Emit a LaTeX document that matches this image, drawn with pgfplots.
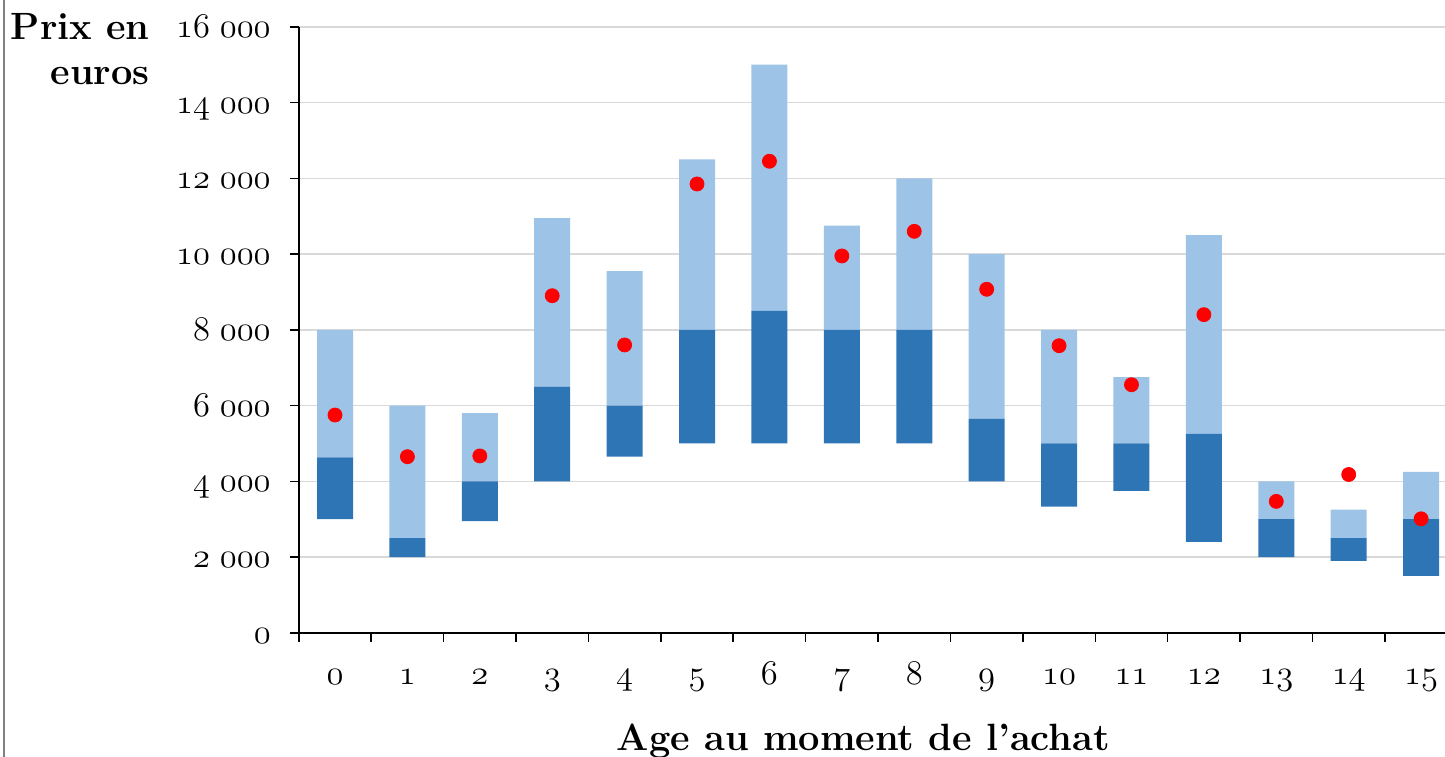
\documentclass[border=0pt]{standalone}
\usepackage{pgfplots}
\usepackage{pgfplotstable}
\pgfplotsset{compat=1.18}
\definecolor{darkb}{HTML}{2E75B6}
\definecolor{lightb}{HTML}{9DC3E6}
\definecolor{gridc}{HTML}{D9D9D9}
\newcommand\osn[1]{{\usefont{OML}{cmm}{m}{it}#1}}
\newcommand\yl[1]{\osn{#1}\hspace{0.3em}\osn{000}}
\pgfplotstableread{
age q1 med q3 mean
0 3000 4630 8000 5750
1 2000 2500 6000 4650
2 2950 4000 5800 4670
3 4000 6500 10950 8900
4 4650 6000 9550 7600
5 5000 8000 12500 11850
6 5000 8500 15000 12450
7 5000 8000 10750 9950
8 5000 8000 12000 10600
9 4000 5650 10000 9070
10 3330 5000 8000 7580
11 3750 5000 6750 6550
12 2400 5250 10500 8400
13 2000 3000 4000 3470
14 1900 2500 3250 4180
15 1500 3000 4250 3010
}\datatable
\begin{document}
\begin{tikzpicture}
\useasboundingbox (-149.4pt,-61.6pt) rectangle (573.1pt,316.4pt);
\pgfplotsset{common/.style={
  at={(0,0)}, anchor=south west,
  scale only axis, width=573.1pt, height=303pt,
  xmin=-0.5, xmax=15.33, ymin=0, ymax=16000}}
\begin{axis}[common,
  ybar stacked, bar width=18pt,
  axis lines*=left,
  axis line style={line width=0.75pt, black},
  tick align=outside, major tick length=4.5pt,
  tick style={black, line width=0.75pt},
  xtick={-0.5,0.5,...,14.5}, xticklabels={,,,,,,,,,,,,,,,},
  extra x ticks={0,1,...,15},
  extra x tick labels={\osn{0},\osn{1},\osn{2},\osn{3},\osn{4},\osn{5},\osn{6},\osn{7},\osn{8},\osn{9},\osn{10},\osn{11},\osn{12},\osn{13},\osn{14},\osn{15}},
  extra x tick style={tick style={draw=none}},
  xticklabel style={anchor=base, yshift=-21.5pt, font=\fontsize{16.5}{18}\selectfont},
  scaled y ticks=false,
  ytick={0,2000,...,16000},
  yticklabels={\osn{0},\yl{2},\yl{4},\yl{6},\yl{8},\yl{10},\yl{12},\yl{14},\yl{16}},
  yticklabel style={anchor=base east, xshift=-6pt, yshift=-5.3pt, font=\fontsize{16.5}{18}\selectfont},
  ymajorgrids, grid style={gridc, line width=0.75pt},
  clip=false,
]
\addplot[draw=none, fill=none] table[x=age, y=q1] {\datatable};
\addplot[draw=none, fill=darkb] table[x=age, y expr=\thisrow{med}-\thisrow{q1}] {\datatable};
\addplot[draw=none, fill=lightb] table[x=age, y expr=\thisrow{q3}-\thisrow{med}] {\datatable};
\end{axis}
\begin{axis}[common, hide axis]
\addplot[only marks, mark=*, mark size=3.5pt, color=red] table[x=age, y=mean] {\datatable};
\end{axis}
\draw[gray, line width=0.6pt] (-147.4pt,-62pt) -- (-147.4pt,317pt);
\node[anchor=base east, font=\bfseries\fontsize{19}{22}\selectfont, inner sep=0pt] at (-74.4pt,296.4pt) {Prix en};
\node[anchor=base east, font=\bfseries\fontsize{19}{22}\selectfont, inner sep=0pt] at (-74.4pt,273.9pt) {euros};
\node[anchor=base, font=\bfseries\fontsize{19}{22}\selectfont, inner sep=0pt] at (282.3pt,-58.6pt) {Age au moment de l’achat};
\end{tikzpicture}
\end{document}
